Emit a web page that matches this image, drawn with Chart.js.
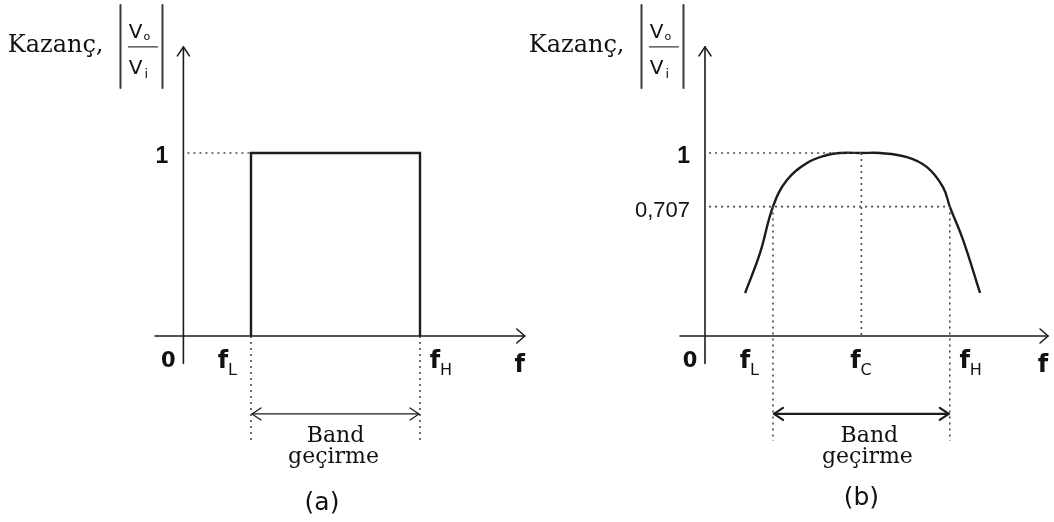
<!DOCTYPE html>
<html>
<head>
<meta charset="utf-8">
<script src="https://cdn.jsdelivr.net/npm/chart.js@4/dist/chart.umd.min.js"></script>
<style>
  html, body { margin: 0; padding: 0; background: #fff; }
  #wrap { position: relative; width: 1054px; height: 522px; overflow: hidden; background: #fff; }
  canvas { position: absolute; top: 0; }
  #panelA { left: 0; }
  #panelB { left: 527px; }
</style>
</head>
<body>
<div id="wrap">
  <canvas id="panelA" width="527" height="522"></canvas>
  <canvas id="panelB" width="527" height="522"></canvas>
</div>
<script>
// (a) ideal band-pass response: gain jumps to 1 between fL and fH
const idealFreq = [2, 2, 7, 7];
const idealGain = [0, 1, 1, 0];
const bandA = [2, 7];                 // fL, fH

// (b) practical band-pass response
const realFreq = [1.18, 1.62, 2.0, 2.41, 3.0, 3.59, 3.97, 4.6, 5.15, 5.94, 6.53, 7.0, 7.2, 7.59, 8.09];
const realGain = [0.235, 0.454, 0.707, 0.852, 0.945, 0.989, 1.0, 1.0, 1.0, 0.978, 0.923, 0.814, 0.707, 0.525, 0.235];
const bandB = [2, 4.6, 7.2];          // fL, fC, fH
const halfPower = 0.707;

// text
const gainTickA = ['1'];
const gainTickB = ['1', '0,707'];
const gainTitle = 'Kazanç,';
const bandText = ['Band', 'geçirme'];
const freqSubsA = ['L', 'H'];
const freqSubsB = ['L', 'C', 'H'];
const panelNames = ['(a)', '(b)'];

const INK = '#1c1c1c';
const DOT = '#4a4a4a';
const Y_RANGE = [-1.0164, 1.8361];
const DROP = -0.574;                  // how far the band guides run below the axis

const pts = (xs, ys) => xs.map((x, i) => ({ x, y: ys[i] }));

function solid(data, width) {
  return { data, showLine: true, borderColor: INK, borderWidth: width, pointRadius: 0, fill: false };
}
function dotted(data) {
  return { data, showLine: true, borderColor: DOT, borderWidth: 1.6, borderDash: [2, 4], pointRadius: 0, fill: false };
}

function line(ctx, x0, y0, x1, y1) {
  ctx.beginPath(); ctx.moveTo(x0, y0); ctx.lineTo(x1, y1); ctx.stroke();
}
function chevron(ctx, x, y, dir, len, half) {
  ctx.beginPath();
  if (dir === 'right') { ctx.moveTo(x - len, y - half); ctx.lineTo(x, y); ctx.lineTo(x - len, y + half); }
  if (dir === 'left')  { ctx.moveTo(x + len, y - half); ctx.lineTo(x, y); ctx.lineTo(x + len, y + half); }
  if (dir === 'up')    { ctx.moveTo(x - half, y + len); ctx.lineTo(x, y); ctx.lineTo(x + half, y + len); }
  ctx.stroke();
}
function text(ctx, s, x, y, font, align) {
  ctx.font = font; ctx.textAlign = align || 'center'; ctx.textBaseline = 'alphabetic';
  ctx.fillText(s, x, y);
}

// axes with arrowheads, labels, band arrow and the gain title
const sketchPlugin = {
  id: 'sketch',
  afterDatasetsDraw(chart, args, o) {
    const ctx = chart.ctx, X = chart.scales.x, Y = chart.scales.y;
    const px = v => X.getPixelForValue(v), py = v => Y.getPixelForValue(v);
    const ox = px(0), oy = py(0);
    ctx.save();
    ctx.strokeStyle = INK; ctx.fillStyle = '#111'; ctx.lineCap = 'round'; ctx.lineJoin = 'round';

    // axes
    ctx.lineWidth = 1.6;
    const xEnd = px(o.xAxis[1]);
    line(ctx, px(o.xAxis[0]), oy, xEnd, oy);
    chevron(ctx, xEnd, oy, 'right', 8, 7);
    const yTop = py(o.yAxis[1]);
    line(ctx, ox, py(o.yAxis[0]), ox, yTop);
    chevron(ctx, ox, yTop, 'up', 9, 6);

    // band arrow
    ctx.lineWidth = o.arrowWidth;
    const bl = px(o.band[0]), br = px(o.band[o.band.length - 1]), by = py(o.arrowY);
    line(ctx, bl + 1, by, br - 1, by);
    chevron(ctx, bl + 1, by, 'left', 9, 6);
    chevron(ctx, br - 1, by, 'right', 9, 6);

    // gain ticks
    o.ticks.forEach((t, i) => {
      text(ctx, t, ox - 15, py(o.tickVals[i]) + 10, o.tickFonts[i], 'right');
    });

    // frequency labels
    text(ctx, '0', ox - 15, oy + 31, 'bold 21px "DejaVu Sans"');
    o.band.forEach((f, i) => {
      const cx = px(f) + o.fOffsets[i];
      text(ctx, 'f', cx, oy + 32, 'bold 24px "DejaVu Sans"');
      text(ctx, o.subs[i], cx + 5, oy + 39, '16px "DejaVu Sans"', 'left');
    });
    text(ctx, 'f', xEnd - 5, oy + 36, 'bold 24px "DejaVu Sans"');

    // band caption and panel name
    const mid = (bl + br) / 2 + o.bandDx;
    text(ctx, bandText[0], mid, oy + 106, '22px "DejaVu Serif"');
    text(ctx, bandText[1], mid - 2, oy + 127, '22px "DejaVu Serif"');
    text(ctx, o.name, px(o.nameX), oy + o.nameDy, '25px "DejaVu Sans"');

    // gain title: Kazanç, |Vo / Vi|
    const fx = px(o.fracX), fy = py(o.fracY);
    text(ctx, gainTitle, fx - 38, fy + 6, '24px "DejaVu Serif"', 'right');
    ctx.lineWidth = 2;
    ctx.strokeStyle = '#3a3a3a';
    line(ctx, fx - 21, fy - 41, fx - 21, fy + 42);
    line(ctx, fx + 21, fy - 41, fx + 21, fy + 42);
    ctx.lineWidth = 1.3;
    line(ctx, fx - 13, fy + 1, fx + 16, fy + 1);
    text(ctx, 'V', fx - 6, fy - 8, '20px "DejaVu Sans"');
    text(ctx, 'o', fx + 2, fy - 6, '11px "DejaVu Sans"', 'left');
    text(ctx, 'V', fx - 6, fy + 28, '20px "DejaVu Sans"');
    text(ctx, 'i', fx + 3, fy + 32, '13px "DejaVu Sans"', 'left');
    ctx.restore();
  }
};

function makeChart(id, datasets, xRange, fig) {
  return new Chart(document.getElementById(id), {
    type: 'scatter',
    data: { datasets },
    options: {
      responsive: false,
      animation: false,
      events: [],
      layout: { padding: 0 },
      scales: {
        x: { type: 'linear', min: xRange[0], max: xRange[1], display: false },
        y: { type: 'linear', min: Y_RANGE[0], max: Y_RANGE[1], display: false }
      },
      plugins: { legend: { display: false }, tooltip: { enabled: false }, sketch: fig }
    },
    plugins: [sketchPlugin]
  });
}

// panel (a)
makeChart('panelA', [
  dotted([{ x: 0.12, y: idealGain[1] }, { x: bandA[0], y: idealGain[1] }]),
  dotted([{ x: bandA[0], y: 0 }, { x: bandA[0], y: DROP }]),
  dotted([{ x: bandA[1], y: 0 }, { x: bandA[1], y: DROP }]),
  solid(pts(idealFreq, idealGain), 2.4)
], [-5.426, 10.166], {
  xAxis: [-0.84, 10.1], yAxis: [-0.15, 1.58],
  band: bandA, subs: freqSubsA, fOffsets: [-28, 15],
  arrowY: -0.426, arrowWidth: 1.3, bandDx: 0,
  ticks: gainTickA, tickVals: [1], tickFonts: ['bold 23px "Liberation Sans"'],
  name: panelNames[0], nameX: 4.1, nameDy: 174,
  fracX: -1.24, fracY: 1.585
});

// panel (b)
makeChart('panelB', [
  dotted([{ x: 0.12, y: 1 }, { x: bandB[1], y: 1 }]),
  dotted([{ x: 0.12, y: halfPower }, { x: bandB[2], y: halfPower }]),
  dotted([{ x: bandB[0], y: halfPower }, { x: bandB[0], y: DROP }]),
  dotted([{ x: bandB[1], y: 1 }, { x: bandB[1], y: 0 }]),
  dotted([{ x: bandB[2], y: halfPower }, { x: bandB[2], y: DROP }]),
  Object.assign(solid(pts(realFreq, realGain), 2.4), { tension: 0.4 })
], [-5.235, 10.265], {
  xAxis: [-0.735, 10.09], yAxis: [-0.15, 1.58],
  band: [bandB[0], bandB[1], bandB[2]], subs: freqSubsB, fOffsets: [-28, -6, 15],
  arrowY: -0.426, arrowWidth: 2.2, bandDx: 8,
  ticks: gainTickB, tickVals: [1, halfPower], tickFonts: ['bold 23px "Liberation Sans"', '22px "Liberation Sans"'],
  name: panelNames[1], nameX: bandB[1], nameDy: 169,
  fracX: -1.25, fracY: 1.585
});
</script>
</body>
</html>
